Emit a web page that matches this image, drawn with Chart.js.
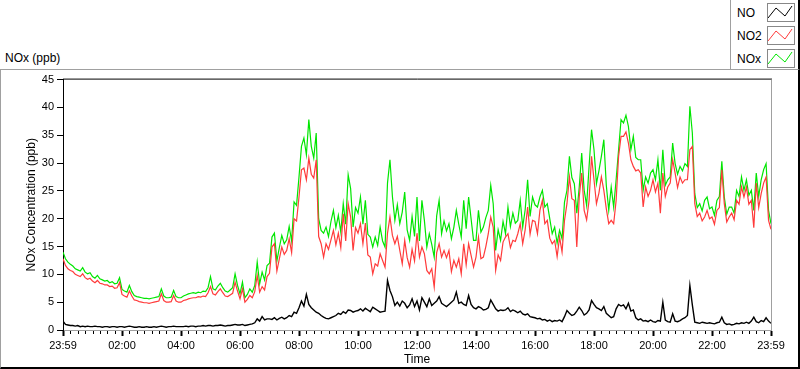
<!DOCTYPE html>
<html>
<head>
<meta charset="utf-8">
<script src="https://cdn.jsdelivr.net/npm/chart.js@4.4.0/dist/chart.umd.min.js"></script>
<style>
    body { margin: 0; background: #fff; font-family: "Liberation Sans", Arial, sans-serif; color: #000; }
    #frame { position: absolute; left: 0; top: 69px; width: 800px; height: 300px; box-sizing: border-box;
             border-left: 1px solid #a0a0a0; border-top: 1px solid #a0a0a0; border-right: 2px solid #000; border-bottom: 2px solid #000; }
    #wrap { position: absolute; left: 1px; top: 70px; width: 796px; height: 297px; }
    #title { position: absolute; left: 5px; top: 51px; font-size: 12px; }
    #legend { position: absolute; left: 730px; top: 0; width: 70px; height: 70px; box-sizing: border-box; background: #fff;
              border-left: 1px solid #a0a0a0; border-bottom: 1px solid #a0a0a0; border-right: 2px solid #000; }
    .item { position: absolute; left: 6px; font-size: 12px; line-height: 14px; }
    .sw { position: absolute; left: 36px; width: 28px; height: 19px; box-sizing: border-box; border: 1px solid #888; background: #fff; }
    .sw svg { position: absolute; left: 0; top: 0; }
</style>
</head>
<body>
<div id="frame"></div>
<div id="title">NOx (ppb)</div>
<div id="legend"></div>
<div id="wrap"><canvas id="nox-graph" width="796" height="297"></canvas></div>
<script>
// minutes between samples (0 = 23:59 of the previous day)
const stepMin = 5
const timeLabels = ['23:59', '02:00', '04:00', '06:00', '08:00', '10:00', '12:00',
                    '14:00', '16:00', '18:00', '20:00', '22:00', '23:59']
const seriesNames = ['NO', 'NO2', 'NOx']
const seriesColors = ['#000000', '#ff3b3b', '#00e600']

// one row per hour, 12 samples each
const no = [
    1.6, 1.0, 0.9, 0.8, 0.8, 0.7, 0.8, 0.6, 0.7, 0.6, 0.7, 0.6,
    0.6, 0.7, 0.6, 0.6, 0.5, 0.6, 0.6, 0.5, 0.6, 0.6, 0.5, 0.6,
    0.6, 0.5, 0.6, 0.7, 0.6, 0.5, 0.5, 0.6, 0.5, 0.5, 0.6, 0.5,
    0.5, 0.6, 0.5, 0.6, 0.7, 0.6, 0.5, 0.6, 0.6, 0.7, 0.6, 0.6,
    0.6, 0.6, 0.7, 0.6, 0.7, 0.7, 0.6, 0.7, 0.7, 0.8, 0.7, 0.8,
    0.8, 0.7, 0.8, 0.8, 0.9, 0.8, 0.7, 0.8, 0.8, 0.9, 1.0, 0.9,
    0.9, 1.0, 0.8, 0.9, 1.0, 1.1, 1.3, 2.0, 1.6, 2.4, 1.8, 2.0,
    2.0, 1.9, 2.2, 1.8, 2.1, 2.3, 2.0, 2.2, 2.6, 2.4, 3.2, 3.0,
    4.0, 5.2, 4.3, 6.4, 4.6, 4.0, 3.6, 3.2, 3.0, 2.6, 2.3, 2.1,
    2.0, 2.2, 2.4, 2.6, 3.0, 2.8, 3.3, 3.0, 3.6, 3.5, 3.2, 3.4,
    3.5, 3.8, 3.4, 3.9, 3.6, 3.3, 4.1, 3.8, 3.5, 3.2, 3.3, 3.4,
    8.9, 7.1, 6.0, 4.4, 5.0, 4.3, 5.2, 4.8, 4.0, 4.5, 5.6, 4.2,
    5.2, 3.6, 5.8, 5.0, 4.2, 5.6, 4.4, 4.8, 5.2, 6.0, 4.8, 4.5,
    4.2, 4.6, 5.0, 5.4, 6.8, 4.8, 5.0, 4.6, 4.4, 6.2, 4.6, 4.0,
    3.8, 4.2, 4.0, 3.6, 3.7, 4.0, 5.4, 4.6, 3.8, 3.4, 3.6, 3.5,
    3.6, 4.0, 3.3, 3.6, 3.4, 3.1, 3.4, 2.9, 2.7, 2.9, 2.4, 2.3,
    2.2, 2.0, 2.1, 1.8, 1.9, 1.6, 1.8, 1.5, 1.7, 1.6, 1.8, 1.5,
    2.4, 3.5, 3.0, 2.6, 2.8, 3.4, 4.1, 3.5, 2.7, 3.0, 3.6, 5.3,
    4.6, 4.0, 3.8, 3.5, 4.2, 3.0, 2.6, 2.2, 2.4, 3.8, 4.6, 4.3,
    4.5, 3.8, 4.8, 3.4, 3.6, 2.2, 1.8, 2.0, 1.6, 1.7, 1.5, 1.8,
    1.5, 1.4, 1.7, 1.6, 5.0, 1.8, 1.5, 1.4, 2.9, 1.6, 1.5, 1.7,
    2.0, 2.2, 2.6, 8.0, 4.5, 1.4, 1.3, 1.2, 1.4, 1.3, 1.2, 1.3,
    1.2, 1.1, 1.3, 1.4, 2.3, 1.3, 1.0, 1.1, 0.9, 1.0, 1.2, 1.1,
    1.3, 1.2, 1.4, 1.2, 1.6, 2.3, 1.5, 1.3, 1.7, 1.5, 2.2, 1.6,
    1.2
]
const no2 = [
    12.8, 11.6, 11.0, 10.7, 10.5, 10.0, 9.8, 9.6, 10.1, 9.4, 9.1, 9.3,
    8.8, 8.5, 8.9, 8.4, 8.3, 8.1, 8.1, 7.8, 7.9, 7.5, 7.6, 8.5,
    6.4, 6.1, 5.9, 7.0, 6.1, 5.4, 5.3, 5.1, 5.0, 4.9, 4.9, 4.8,
    4.9, 5.0, 5.1, 5.2, 6.5, 5.3, 5.0, 5.0, 5.1, 6.2, 5.2, 5.0,
    5.0, 5.3, 5.4, 5.6, 5.7, 5.8, 5.8, 6.0, 5.9, 6.1, 6.0, 6.7,
    7.8, 6.5, 6.3, 6.9, 7.4, 6.7, 6.1, 6.0, 6.3, 6.6, 8.6, 7.0,
    5.6, 7.4, 5.0, 5.5, 6.2, 5.8, 6.9, 9.8, 6.8, 7.8, 7.2, 9.6,
    10.2, 14.9, 15.5, 10.6, 12.8, 14.9, 13.6, 14.3, 16.4, 13.9, 20.0, 19.6,
    23.9, 28.8, 29.1, 27.0, 30.9, 28.0, 27.3, 30.6, 16.8, 15.5, 13.1, 15.5,
    14.5, 16.2, 17.9, 15.3, 17.4, 14.8, 20.9, 16.0, 22.7, 20.3, 14.3, 18.4,
    17.4, 19.1, 15.5, 19.2, 13.5, 13.1, 10.1, 11.9, 11.5, 13.7, 12.5, 11.3,
    17.4, 20.3, 17.0, 15.5, 16.8, 14.3, 11.9, 16.1, 13.0, 11.3, 14.5, 12.4,
    17.4, 13.1, 14.9, 13.7, 10.7, 10.1, 11.0, 7.7, 13.9, 15.5, 13.1, 14.3,
    13.0, 14.3, 10.5, 12.5, 11.3, 12.8, 10.1, 15.5, 11.7, 15.5, 13.4, 11.3,
    13.1, 16.7, 12.8, 13.1, 15.0, 17.3, 20.3, 18.5, 10.7, 13.5, 12.5, 15.8,
    16.7, 17.3, 14.8, 16.1, 15.9, 17.3, 19.1, 15.5, 18.0, 22.1, 17.2, 19.7,
    19.5, 17.3, 21.5, 23.3, 19.1, 19.7, 16.5, 15.5, 16.1, 13.2, 16.7, 14.0,
    19.7, 22.7, 27.5, 23.6, 23.3, 14.9, 23.9, 28.2, 21.5, 19.8, 23.3, 31.2,
    27.0, 22.7, 24.6, 27.5, 25.1, 21.8, 19.1, 19.7, 19.1, 23.3, 31.2, 34.8,
    34.8, 35.6, 33.6, 30.6, 29.4, 28.6, 28.8, 28.2, 22.1, 25.7, 24.0, 25.1,
    27.0, 24.8, 26.4, 21.0, 28.2, 24.0, 25.7, 26.4, 30.6, 28.2, 25.6, 27.5,
    26.4, 27.0, 27.0, 32.4, 33.0, 22.7, 20.4, 21.0, 19.6, 20.3, 21.5, 20.0,
    20.3, 19.0, 21.5, 22.0, 28.8, 22.7, 19.4, 20.3, 21.0, 19.8, 23.3, 22.6,
    25.7, 23.9, 25.7, 22.6, 23.3, 18.4, 26.4, 22.0, 24.5, 26.4, 27.5, 19.7,
    18.1
]
const nox = [
    14.0, 12.8, 12.2, 11.8, 11.5, 11.0, 10.8, 10.6, 11.2, 10.4, 10.1, 10.3,
    9.6, 9.3, 9.8, 9.2, 9.0, 8.8, 8.9, 8.5, 8.7, 8.3, 8.4, 9.4,
    7.3, 7.0, 6.8, 8.0, 6.9, 6.2, 6.0, 5.9, 5.8, 5.7, 5.7, 5.6,
    5.7, 5.8, 5.9, 6.0, 7.4, 6.1, 5.8, 5.8, 5.9, 7.1, 6.0, 5.8,
    5.8, 6.1, 6.3, 6.5, 6.6, 6.7, 6.6, 6.8, 6.7, 7.0, 6.9, 7.6,
    9.6, 7.4, 7.2, 7.9, 8.4, 7.6, 7.0, 6.8, 7.2, 7.6, 10.1, 8.0,
    6.5, 8.6, 5.8, 6.4, 7.4, 6.8, 8.0, 12.2, 8.3, 10.4, 9.0, 11.6,
    12.0, 16.7, 17.4, 12.4, 14.8, 17.0, 15.5, 16.2, 18.6, 16.0, 23.0, 22.4,
    27.5, 33.0, 34.5, 31.5, 37.8, 33.0, 30.9, 35.4, 20.0, 17.9, 17.4, 18.5,
    16.8, 19.5, 21.5, 18.4, 20.6, 17.6, 22.7, 19.0, 27.9, 25.4, 18.5, 22.0,
    21.0, 23.9, 19.0, 23.3, 17.2, 16.7, 14.9, 16.7, 15.2, 18.5, 16.0, 14.9,
    26.4, 30.6, 24.0, 19.7, 22.5, 19.1, 21.2, 24.8, 18.0, 16.1, 20.4, 16.8,
    23.9, 16.0, 23.3, 19.7, 14.9, 17.3, 15.4, 13.1, 20.5, 23.3, 17.3, 19.6,
    17.8, 19.1, 16.4, 18.5, 21.5, 19.0, 16.7, 23.3, 18.2, 23.9, 20.0, 16.1,
    16.1, 21.5, 17.6, 18.5, 20.2, 21.5, 26.0, 22.7, 14.3, 18.0, 16.1, 19.5,
    17.3, 22.1, 18.6, 21.0, 19.2, 19.7, 23.3, 18.5, 21.6, 27.0, 20.4, 23.9,
    22.5, 22.1, 23.9, 25.1, 22.1, 22.7, 20.0, 17.3, 18.5, 15.6, 17.9, 16.4,
    23.0, 25.1, 31.2, 27.4, 26.3, 21.0, 25.7, 31.8, 25.1, 22.4, 29.4, 36.0,
    32.4, 26.3, 28.6, 31.2, 34.2, 26.0, 21.5, 25.7, 22.1, 27.0, 32.4, 37.8,
    37.2, 38.6, 36.6, 32.4, 34.8, 31.0, 30.6, 30.6, 25.1, 27.5, 26.4, 28.2,
    28.8, 27.0, 30.6, 25.1, 32.4, 26.0, 27.0, 27.5, 33.6, 29.9, 28.0, 29.4,
    28.6, 29.9, 29.4, 40.2, 35.4, 24.5, 22.0, 22.7, 21.4, 23.3, 23.9, 21.8,
    22.1, 20.6, 23.3, 24.0, 30.3, 23.9, 20.8, 22.1, 22.1, 21.0, 25.1, 24.0,
    27.5, 25.1, 27.0, 24.2, 25.1, 21.5, 28.2, 24.0, 27.0, 28.8, 29.9, 21.5,
    19.1
]

function toPoints(values) {
    return values.map((v, i) => ({x: i * stepMin, y: v}))
}

// legend box (top right)
const legend = document.getElementById('legend')
const zig = '0,14 8,4 17,12 24,2'
seriesNames.forEach(function (name, i) {
    const top = 3 + i * 23
    legend.insertAdjacentHTML('beforeend',
        `<div class="item" style="top:${top + 3}px">${name}</div>` +
        `<div class="sw" style="top:${top}px"><svg width="26" height="17">` +
        `<polyline points="${zig}" fill="none" stroke="${seriesColors[i]}" stroke-width="1"/></svg></div>`)
})

// top/right frame of plot area plus minor ticks every 15 min
const framePlugin = {
    id: 'frame',
    afterDraw(chart) {
        const ctx = chart.ctx
        const a = chart.chartArea
        const xs = chart.scales.x
        ctx.save()
        ctx.lineWidth = 1
        ctx.strokeStyle = '#000'
        ctx.beginPath()
        ctx.moveTo(a.left, a.top - 0.5)
        ctx.lineTo(a.right + 1, a.top - 0.5)
        ctx.stroke()
        ctx.strokeStyle = '#a0a0a0'
        ctx.beginPath()
        ctx.moveTo(a.right + 0.5, a.top)
        ctx.lineTo(a.right + 0.5, a.bottom)
        ctx.stroke()
        ctx.strokeStyle = '#000'
        ctx.beginPath()
        for (let m = 15; m < 1440; m += 15) {
            if (m % 120 === 0) continue
            const px = Math.round(xs.getPixelForValue(m)) + 0.5
            ctx.moveTo(px, a.bottom + 1)
            ctx.lineTo(px, a.bottom + 4)
        }
        ctx.stroke()
        ctx.restore()
    }
}

Chart.defaults.font.family = '"Liberation Sans", Arial, sans-serif'
Chart.defaults.color = '#000'

const datasets = [no, no2, nox].map(function (vals, i) {
    return {
        label: seriesNames[i],
        data: toPoints(vals),
        borderColor: seriesColors[i],
        borderWidth: i === 0 ? 1.4 : 1.2,
        pointRadius: 0,
        tension: 0,
        fill: false
    }
})

const graph = new Chart(document.getElementById('nox-graph'), {
    type: 'line',
    data: { datasets: datasets },
    options: {
        responsive: false,
        animation: false,
        layout: { padding: { left: 0, top: 9, right: 26, bottom: 0 } },
        plugins: { legend: { display: false }, tooltip: { enabled: false } },
        scales: {
            x: {
                type: 'linear',
                min: 0,
                max: 1440,
                ticks: {
                    stepSize: 120,
                    autoSkip: false,
                    maxRotation: 0,
                    padding: 3,
                    font: { size: 11 },
                    callback: v => timeLabels[v / 120]
                },
                grid: { drawOnChartArea: false, tickLength: 6, tickWidth: 2, color: '#000' },
                border: { color: '#a0a0a0' },
                title: { display: true, text: 'Time', font: { size: 12 }, padding: { top: 0, bottom: 0 } },
                afterFit: s => { s.height = 37 }
            },
            y: {
                min: 0,
                max: 45,
                ticks: { stepSize: 5, padding: 3, font: { size: 11 } },
                grid: { drawOnChartArea: false, tickLength: 6, color: '#000' },
                border: { color: '#000' },
                title: { display: true, text: 'NOx Concentration (ppb)', font: { size: 12 }, padding: { top: 23, bottom: 0 } },
                afterFit: s => { s.width = 62 }
            }
        }
    },
    plugins: [framePlugin]
})
</script>
</body>
</html>
